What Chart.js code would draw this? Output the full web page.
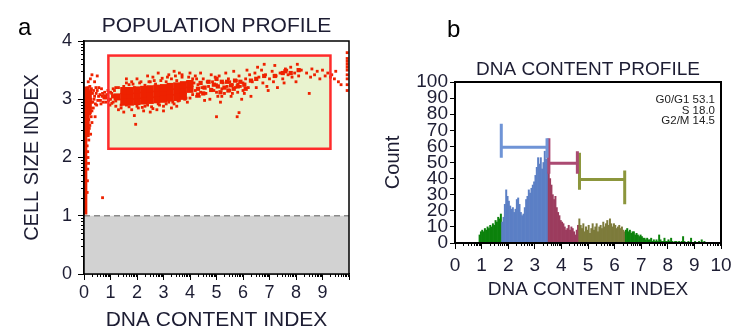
<!DOCTYPE html>
<html>
<head>
<meta charset="utf-8">
<script src="https://cdn.jsdelivr.net/npm/chart.js@4.4.1/dist/chart.umd.min.js"></script>
<style>
  html, body { margin: 0; padding: 0; background: #fff; }
  #wrap { position: relative; width: 750px; height: 335px; overflow: hidden; }
  .panel { position: absolute; top: 0; width: 375px; height: 335px; }
</style>
</head>
<body>
<div id="wrap">
  <div class="panel" style="left:0"><canvas id="popChart" width="375" height="335"></canvas></div>
  <div class="panel" style="left:375px"><canvas id="dnaChart" width="375" height="335"></canvas></div>
</div>
<script>
// ---- panel a: population profile (DNA content index vs cell size index) ----
const popXLabels = ["0", "1", "2", "3", "4", "5", "6", "7", "8", "9"];
const popYLabels = ["0", "1", "2", "3", "4"];

// dense streak of debris along the left edge
const stripLow = [{ x: 0.05, y: 1.02 }, { x: 0.05, y: 3.22 }];
const stripHigh = [{ x: 0.12, y: 2.35 }, { x: 0.12, y: 3.2 }];
const stripTop = [{ x: 0.22, y: 2.75 }, { x: 0.22, y: 3.15 }];

// core of the cell cloud
const coreCells = [
  [1.25, 3.04], [1.5, 3.05], [1.75, 3.05], [2.0, 3.06], [2.25, 3.07], [2.5, 3.08],
  [2.75, 3.09], [3.0, 3.1], [3.25, 3.12], [3.5, 3.13], [3.75, 3.15], [4.0, 3.17],
  [1.5, 2.95], [1.75, 2.95], [2.0, 2.96], [2.25, 2.97], [2.5, 2.98], [2.75, 2.99],
  [3.0, 3.0], [3.25, 3.02], [3.5, 3.03], [3.75, 3.05],
  [1.5, 3.15], [1.75, 3.15], [2.0, 3.16], [2.25, 3.17], [2.5, 3.18], [2.75, 3.19],
  [3.0, 3.2], [3.25, 3.22], [3.5, 3.23], [3.75, 3.25], [4.0, 3.27]
];

// looser clumps further right
const clumpCells = [
  [4.3, 3.18], [4.55, 3.2], [4.8, 3.16], [5.05, 3.22], [5.3, 3.2], [5.55, 3.24],
  [5.8, 3.22], [6.05, 3.25], [4.4, 3.28], [5.2, 3.3], [5.7, 3.32], [7.6, 3.48],
  [4.5, 3.1], [4.7, 3.3], [4.9, 3.25], [5.15, 3.12], [5.4, 3.3], [5.45, 3.15],
  [5.65, 3.18], [5.9, 3.3], [6.1, 3.18], [6.3, 3.32], [4.3, 3.08], [5.0, 3.35],
  [6.5, 3.35], [6.8, 3.4], [7.2, 3.4], [7.5, 3.45], [7.8, 3.45], [8.1, 3.5],
  [1.1, 3.05], [0.8, 3.05]
];

// single events
const cells = [
  [0.55, 3.05], [0.62, 2.98], [0.7, 3.1], [0.75, 3.02], [0.82, 2.95], [0.88, 3.08],
  [0.95, 3.0], [1.0, 3.12], [1.05, 2.93], [1.1, 3.05], [1.15, 3.15], [0.98, 2.9],
  [1.2, 2.97], [0.66, 3.18], [0.4, 3.3], [0.5, 3.15],
  [0.15, 3.2], [0.18, 3.05], [0.2, 2.9], [0.22, 2.75], [0.25, 3.15], [0.28, 2.95],
  [0.3, 2.6], [0.32, 3.1], [0.35, 2.85], [0.38, 3.0], [0.42, 2.7], [0.45, 3.2],
  [0.48, 2.9], [0.2, 2.5], [0.25, 2.4], [0.18, 2.3], [0.3, 3.42], [0.12, 2.2],
  [0.15, 2.0], [0.14, 1.8], [0.1, 3.15], [0.12, 3.05], [0.1, 2.9], [0.13, 2.8],
  [0.1, 2.65], [0.12, 2.5], [0.09, 2.4], [0.7, 1.31],
  [0.2, 3.1], [0.22, 3.22], [0.26, 3.0], [0.28, 3.18], [0.3, 2.8], [0.33, 2.95],
  [0.36, 3.15], [0.4, 3.05], [0.43, 2.92], [0.46, 3.1], [0.52, 2.98], [0.56, 3.2],
  [0.6, 3.08], [0.64, 2.92], [0.68, 3.05], [0.72, 2.95], [0.78, 3.12], [0.84, 3.02],
  [0.9, 3.15], [0.92, 2.98], [0.18, 2.65], [0.22, 2.55], [0.27, 2.7], [0.16, 2.45],
  [0.24, 2.85], [0.14, 2.1], [0.17, 1.9], [0.13, 1.6], [0.12, 1.4], [0.16, 3.3],
  [0.24, 3.35], [0.5, 3.4],
  [1.2, 3.2], [1.5, 3.22], [1.7, 3.25], [1.9, 3.2], [2.1, 3.28], [2.3, 3.24],
  [2.5, 3.3], [2.7, 3.26], [2.9, 3.32], [3.1, 3.3], [3.3, 3.35], [3.5, 3.32],
  [3.7, 3.38], [3.9, 3.3], [4.1, 3.35], [2.0, 3.35], [2.6, 3.38], [3.2, 3.42],
  [3.6, 3.45], [4.0, 3.45], [1.8, 3.3], [2.4, 3.4],
  [1.2, 2.88], [1.4, 2.85], [1.6, 2.9], [1.8, 2.82], [2.0, 2.88], [2.2, 2.86],
  [2.4, 2.9], [2.6, 2.84], [2.8, 2.92], [3.0, 2.88], [3.2, 2.95], [3.4, 2.92],
  [3.6, 2.98], [3.8, 3.0], [4.0, 3.02], [1.5, 2.78], [2.5, 2.78], [3.0, 2.8],
  [1.9, 2.72], [3.3, 2.85], [1.95, 2.57],
  [1.0, 3.0], [1.05, 3.1], [1.1, 2.95], [1.15, 3.05], [1.1, 3.18], [1.3, 3.2],
  [1.4, 2.9], [1.6, 3.28], [1.7, 2.87], [1.85, 3.26], [2.05, 2.85], [2.15, 3.3],
  [2.3, 2.88], [2.45, 3.3], [2.55, 2.87], [2.65, 3.32], [2.85, 2.9], [2.95, 3.36],
  [3.1, 2.92], [3.15, 3.38], [3.35, 2.95], [3.45, 3.4], [3.55, 2.97], [3.7, 3.42],
  [3.85, 3.02], [3.95, 3.38], [4.1, 3.08], [4.15, 3.28], [4.2, 3.4], [4.25, 3.05],
  [1.3, 2.82], [2.25, 2.8], [2.75, 2.82], [3.5, 2.88], [3.9, 2.95], [2.8, 3.45],
  [1.6, 3.35], [3.4, 3.48],
  [4.2, 3.15], [4.3, 3.25], [4.35, 3.05], [4.45, 3.2], [4.5, 3.35], [4.6, 3.1],
  [4.7, 3.22], [4.75, 3.0], [4.85, 3.3], [4.9, 3.15], [5.0, 3.25], [5.05, 3.05],
  [5.1, 3.4], [5.2, 3.18], [5.25, 3.28], [5.3, 3.1], [5.4, 3.22], [5.45, 3.35],
  [5.5, 3.15], [5.55, 3.05], [5.6, 3.25], [5.7, 3.2], [5.75, 3.32], [5.8, 3.12],
  [5.85, 3.4], [5.9, 3.22], [6.0, 3.28], [6.05, 3.1], [6.1, 3.35], [6.2, 3.2],
  [6.25, 3.42], [6.3, 3.05], [4.4, 3.45], [4.8, 3.42], [5.35, 3.45], [5.65, 3.48],
  [6.15, 3.5], [4.55, 2.98], [5.15, 2.95], [5.95, 3.0], [4.25, 3.35], [4.65, 3.3],
  [5.0, 3.12], [5.5, 3.3], [5.2, 3.05], [5.8, 3.26], [4.4, 3.12], [4.95, 3.38],
  [5.6, 3.1], [6.0, 3.15], [5.0, 2.7], [5.78, 2.7], [5.85, 2.77],
  [6.35, 3.3], [6.45, 3.45], [6.5, 3.2], [6.6, 3.38], [6.7, 3.5], [6.75, 3.28],
  [6.85, 3.42], [6.9, 3.22], [7.0, 3.35], [7.1, 3.48], [7.15, 3.3], [7.25, 3.4],
  [7.3, 3.2], [7.4, 3.45], [7.5, 3.35], [7.6, 3.52], [7.65, 3.5], [7.7, 3.42],
  [7.8, 3.55], [7.85, 3.38], [7.95, 3.45], [8.05, 3.6], [8.1, 3.4], [8.2, 3.5],
  [6.55, 3.55], [7.2, 3.58], [6.95, 3.15], [7.55, 3.28], [8.0, 3.3], [6.8, 3.6],
  [8.4, 3.45], [8.55, 3.38], [8.6, 3.52], [8.7, 3.42], [8.8, 3.48], [8.9, 3.35],
  [9.0, 3.5], [9.1, 3.4], [9.2, 3.45], [9.3, 3.38], [9.35, 3.42], [9.45, 3.35],
  [9.5, 3.48], [9.6, 3.3], [9.7, 3.25], [8.5, 3.1],
  [9.93, 3.8], [9.93, 3.7], [9.93, 3.6], [9.93, 3.5], [9.93, 3.42], [9.93, 3.35],
  [9.93, 3.25], [9.93, 3.15], [9.93, 3.65], [9.93, 3.55]
];

const cellGate = [0.92, 2.15, 9.3, 3.75]; // x0, y0, x1, y1
const debrisCutoff = 1.0;

// ---- panel b: DNA content histogram ----
const dnaXLabels = ["0", "1", "2", "3", "4", "5", "6", "7", "8", "9", "10"];
const dnaYLabels = ["0", "10", "20", "30", "40", "50", "60", "70", "80", "90", "100"];

const binStart = 0.9;
const binWidth = 0.05;
const countsLow = [5, 7, 8, 7, 9, 8, 10, 9, 11, 10, 12, 11, 14, 13, 16, 15, 18];
const countsG1 = [13, 16, 24, 33, 29, 26, 23, 21, 22, 19, 21, 27, 28, 24, 19, 17, 18, 22, 27, 29,
  33, 31, 34, 36, 38, 42, 47, 53, 49, 53, 46, 50, 57, 52, 60];
const countsS = [44, 40, 36, 30, 27, 29, 22, 19, 17, 14, 13, 12, 10, 8, 9, 11, 8, 10, 9, 7, 5, 8, 11];
const countsG2M = [15, 11, 9, 12, 7, 10, 8, 11, 6, 9, 12, 8, 10, 12, 7, 10, 11, 9, 13, 10,
  12, 14, 11, 15, 12, 10, 12, 11, 9, 10, 11, 9, 10, 8, 7];
const countsHigh = [8, 9, 7, 8, 6, 7, 7, 5, 6, 5, 4, 5, 4, 3, 3, 2, 3, 2, 2, 3,
  1, 2, 1, 2, 1, 5, 2, 1, 1, 3, 1, 1, 2, 1, 3, 1, 0, 1, 1, 0,
  1, 0, 1, 4, 1, 0, 0, 1, 0, 3, 0, 0, 1, 0, 0, 1, 0, 2, 0, 1];

const phaseNames = ["G0/G1", "S", "G2/M"];
const phasePercents = [53.1, 18.0, 14.5];
// x0, x1, y, left tick lo/hi, right tick lo/hi
const phaseBrackets = [
  [1.74, 3.46, 59.5, 53, 74, 53, 65],
  [3.53, 4.6, 49.5, 43, 65, 43, 57],
  [4.68, 6.38, 39.5, 33, 56, 24, 45]
];

// ---- styling ----
const FONT = "'Liberation Sans', Arial, Helvetica, sans-serif";
const INK = "#1d1d33";
const RED = "#ee2200";
const outColor = "#0c820c";
const phaseColors = ["#5b7fc5", "#9c3c5e", "#7d7b3b"];
const bracketColors = ["#6f94d6", "#ab4a72", "#8c963c"];

const toPts = arr => arr.map(p => ({ x: p[0], y: p[1] }));

// log-spaced minor ticks between the labelled ticks
const minorTicks = {
  id: "minorTicks",
  afterDraw(chart, args, opts) {
    const ctx = chart.ctx;
    ctx.save();
    ctx.strokeStyle = "#000";
    ctx.lineWidth = 1;
    (opts.axes || []).forEach(id => {
      const s = chart.scales[id];
      ctx.beginPath();
      for (let d = Math.floor(s.min); d < s.max; d++) {
        for (let k = 2; k <= 9; k++) {
          const p = Math.round(s.getPixelForValue(d + Math.log10(k))) + 0.5;
          if (s.isHorizontal()) {
            ctx.moveTo(p, s.top);
            ctx.lineTo(p, s.top + opts.length);
          } else {
            ctx.moveTo(s.right, p);
            ctx.lineTo(s.right - opts.length, p);
          }
        }
      }
      ctx.stroke();
    });
    ctx.restore();
  }
};

const frameAndText = {
  id: "frameAndText",
  afterDraw(chart, args, opts) {
    const { ctx, chartArea: a } = chart;
    ctx.save();
    ctx.strokeStyle = "#000";
    ctx.lineWidth = opts.frameWidth;
    ctx.strokeRect(a.left, a.top, a.right - a.left, a.bottom - a.top);
    ctx.fillStyle = "#000";
    ctx.font = "24px " + FONT;
    ctx.textAlign = "left";
    ctx.fillText(opts.letter, opts.letterX, opts.letterY);
    ctx.fillStyle = INK;
    ctx.font = opts.titleSize + "px " + FONT;
    ctx.textAlign = "center";
    ctx.fillText(opts.title, (a.left + a.right) / 2, opts.titleY);
    ctx.restore();
  }
};

const gates = {
  id: "gates",
  beforeDatasetsDraw(chart) {
    const { ctx, chartArea: a, scales: { x, y } } = chart;
    ctx.save();
    const yCut = y.getPixelForValue(debrisCutoff);
    ctx.fillStyle = "#d2d2d2";
    ctx.fillRect(a.left, yCut, a.right - a.left, a.bottom - yCut);
    ctx.strokeStyle = "#8a8a8a";
    ctx.lineWidth = 1.5;
    ctx.setLineDash([6, 4]);
    ctx.beginPath();
    ctx.moveTo(a.left, yCut);
    ctx.lineTo(a.right, yCut);
    ctx.stroke();
    ctx.setLineDash([]);
    const gx0 = x.getPixelForValue(cellGate[0]), gx1 = x.getPixelForValue(cellGate[2]);
    const gy0 = y.getPixelForValue(cellGate[1]), gy1 = y.getPixelForValue(cellGate[3]);
    ctx.fillStyle = "#e9f3cf";
    ctx.fillRect(gx0, gy1, gx1 - gx0, gy0 - gy1);
    ctx.restore();
  },
  afterDatasetsDraw(chart) {
    const { ctx, scales: { x, y } } = chart;
    const gx0 = x.getPixelForValue(cellGate[0]), gx1 = x.getPixelForValue(cellGate[2]);
    const gy0 = y.getPixelForValue(cellGate[1]), gy1 = y.getPixelForValue(cellGate[3]);
    ctx.save();
    ctx.strokeStyle = "#ff2b2b";
    ctx.lineWidth = 2.5;
    ctx.strokeRect(gx0, gy1, gx1 - gx0, gy0 - gy1);
    ctx.restore();
  }
};

const phaseStats = {
  id: "phaseStats",
  afterDatasetsDraw(chart) {
    const { ctx, chartArea: a } = chart;
    ctx.save();
    ctx.fillStyle = "#222";
    ctx.font = "11.5px " + FONT;
    ctx.textAlign = "right";
    phaseNames.forEach((n, i) => {
      ctx.fillText(n + " " + phasePercents[i].toFixed(1), a.right - 6, a.top + 21 + i * 10.5);
    });
    ctx.restore();
  }
};

function axisBase(labels, step, fontSize, tickLen, pad, size, horizontal) {
  return {
    type: "linear",
    offset: false,
    ticks: {
      stepSize: step,
      autoSkip: false,
      maxRotation: 0,
      padding: pad,
      color: INK,
      font: { family: FONT, size: fontSize },
      callback: v => labels[Math.round(v / step)] ?? ""
    },
    grid: { drawOnChartArea: false, offset: false, tickLength: tickLen, tickColor: "#000", tickWidth: 1 },
    border: { color: "#000", width: 1.5 },
    afterFit: s => { if (horizontal) s.height = size; else s.width = size; }
  };
}

// ---- chart a ----
const popX = axisBase(popXLabels, 1, 18, 6, 2, 61, true);
popX.min = 0; popX.max = 10;
popX.title = { display: true, text: "DNA CONTENT INDEX", color: INK, font: { family: FONT, size: 21 }, padding: { top: 0, bottom: 2 } };
const popY = axisBase(popYLabels, 1, 18, 6, 6, 84, false);
popY.min = 0; popY.max = 4;
popY.title = { display: true, text: "CELL SIZE INDEX", color: INK, font: { family: FONT, size: 20 }, padding: { top: 20, bottom: 0 } };

new Chart(document.getElementById("popChart"), {
  type: "scatter",
  data: {
    datasets: [
      { data: stripLow, showLine: true, borderColor: RED, borderWidth: 4, pointRadius: 0 },
      { data: stripHigh, showLine: true, borderColor: RED, borderWidth: 5, pointRadius: 0 },
      { data: stripTop, showLine: true, borderColor: RED, borderWidth: 4, pointRadius: 0 },
      { data: toPts(coreCells), backgroundColor: RED, pointStyle: "rect", pointRadius: 5, pointBorderWidth: 0 },
      { data: toPts(clumpCells), backgroundColor: RED, pointStyle: "rect", pointRadius: 3, pointBorderWidth: 0 },
      { data: toPts(cells), backgroundColor: RED, pointStyle: "rect", pointRadius: 2, pointBorderWidth: 0 }
    ]
  },
  options: {
    responsive: false,
    animation: false,
    layout: { padding: { top: 41, right: 26, left: 0, bottom: 0 } },
    plugins: {
      legend: { display: false },
      tooltip: { enabled: false },
      minorTicks: { axes: ["x", "y"], length: 3 },
      frameAndText: { frameWidth: 1.5, letter: "a", letterX: 18, letterY: 35, title: "POPULATION PROFILE", titleSize: 21, titleY: 32 }
    },
    scales: { x: popX, y: popY }
  },
  plugins: [gates, minorTicks, frameAndText]
});

// ---- chart b ----
const segments = [
  [countsLow, outColor], [countsG1, phaseColors[0]], [countsS, phaseColors[1]],
  [countsG2M, phaseColors[2]], [countsHigh, outColor]
];
const bars = [];
const barColors = [];
segments.forEach(([vals, color]) => {
  vals.forEach(c => {
    bars.push({ x: binStart + (bars.length + 0.5) * binWidth, y: c });
    barColors.push(color);
  });
});

const bracketSets = phaseBrackets.map((b, i) => ({
  type: "line",
  order: 0,
  data: [
    { x: b[0], y: b[3] }, { x: b[0], y: b[4] }, { x: b[0], y: null },
    { x: b[0], y: b[2] }, { x: b[1], y: b[2] }, { x: b[1], y: null },
    { x: b[1], y: b[5] }, { x: b[1], y: b[6] }
  ],
  borderColor: bracketColors[i],
  borderWidth: 3,
  pointRadius: 0,
  spanGaps: false,
  tension: 0
}));

const dnaX = axisBase(dnaXLabels, 1, 19, 6, 5, 92, true);
dnaX.min = 0; dnaX.max = 10;
dnaX.title = { display: true, text: "DNA CONTENT INDEX", color: INK, font: { family: FONT, size: 19 }, padding: { top: 0, bottom: 34 } };
const dnaY = axisBase(dnaYLabels, 10, 19, 5, 2, 80, false);
dnaY.min = 0; dnaY.max = 100;
dnaY.title = { display: true, text: "Count", color: INK, font: { family: FONT, size: 20 }, padding: { top: 6, bottom: 0 } };

new Chart(document.getElementById("dnaChart"), {
  type: "bar",
  data: {
    datasets: [
      { type: "bar", order: 1, data: bars, backgroundColor: barColors, borderWidth: 0, barPercentage: 1, categoryPercentage: 1 }
    ].concat(bracketSets)
  },
  options: {
    responsive: false,
    animation: false,
    layout: { padding: { top: 82, right: 29, left: 0, bottom: 0 } },
    plugins: {
      legend: { display: false },
      tooltip: { enabled: false },
      minorTicks: { axes: ["x"], length: 3 },
      frameAndText: { frameWidth: 2, letter: "b", letterX: 72, letterY: 37, title: "DNA CONTENT PROFILE", titleSize: 19, titleY: 75 }
    },
    scales: { x: dnaX, y: dnaY }
  },
  plugins: [minorTicks, phaseStats, frameAndText]
});
</script>
</body>
</html>
